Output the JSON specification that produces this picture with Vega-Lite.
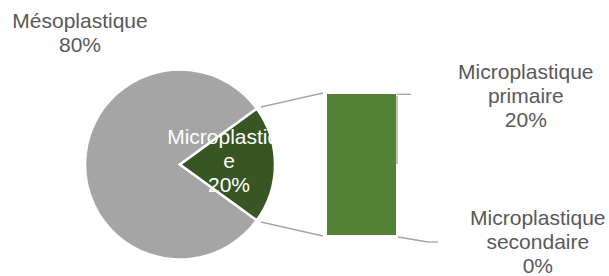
{
  "$schema": "https://vega.github.io/schema/vega-lite/v6.json",
  "width": 360,
  "height": 141,
  "autosize": {"type": "none"},
  "padding": {"left": 0, "top": 94, "right": 249, "bottom": 41},
  "background": "#ffffff",
  "config": {
    "view": {"stroke": null},
    "text": {"font": "Liberation Sans", "fontSize": 21, "lineHeight": 24}
  },
  "datasets": {
    "secteurs": [
      {"categorie": "Mésoplastique", "part": 80, "etiquette": ["Mésoplastique", "80%"]},
      {"categorie": "Microplastique", "part": 20, "etiquette": ["Microplastiqu", "e", "20%"]}
    ],
    "barre": [
      {"panneau": "Barre", "categorie": "Microplastique primaire", "part": 20, "etiquette": ["Microplastique", "primaire", "20%"]},
      {"panneau": "Barre", "categorie": "Microplastique secondaire", "part": 0, "etiquette": ["Microplastique", "secondaire", "0%"]}
    ]
  },
  "layer": [
    {
      "data": {"name": "secteurs"},
      "mark": {"type": "arc", "outerRadius": 95, "stroke": "#ffffff", "strokeWidth": 2.5},
      "encoding": {
        "theta": {"field": "part", "type": "quantitative", "stack": true, "scale": {"range": [0.9425, 7.2257]}},
        "order": {"field": "categorie", "sort": "ascending"},
        "color": {"field": "categorie", "type": "nominal", "scale": {"domain": ["Mésoplastique", "Microplastique"], "range": ["#A5A5A5", "#375623"]}, "legend": null}
      }
    },
    {
      "data": {"name": "secteurs"},
      "transform": [{"filter": "datum.categorie === 'Mésoplastique'"}],
      "mark": {"type": "text", "dx": -100, "dy": -136.2, "baseline": "alphabetic", "align": "center", "color": "#595959"},
      "encoding": {"text": {"field": "etiquette"}}
    },
    {
      "data": {"name": "secteurs"},
      "transform": [{"filter": "datum.categorie === 'Microplastique'"}],
      "mark": {"type": "text", "dx": 49, "dy": -20.5, "baseline": "alphabetic", "align": "center", "color": "#ffffff"},
      "encoding": {"text": {"field": "etiquette"}}
    },
    {
      "data": {"name": "barre"},
      "transform": [{"stack": "part", "groupby": ["panneau"], "sort": [{"field": "categorie", "order": "descending"}], "as": ["bas", "haut"]}],
      "encoding": {
        "x": {"field": "panneau", "type": "nominal", "scale": {"range": [327, 396], "paddingInner": 0, "paddingOuter": 0}, "axis": null},
        "y": {"field": "haut", "type": "quantitative", "scale": {"domain": [0, 20]}, "axis": null}
      },
      "layer": [
        {
          "mark": {"type": "bar", "color": "#548235"},
          "encoding": {
            "y": {"field": "bas", "type": "quantitative"},
            "y2": {"field": "haut"}
          }
        },
        {
          "transform": [{"filter": "datum.categorie === 'Microplastique primaire'"}],
          "mark": {"type": "rule", "color": "#A5A5A5", "strokeWidth": 1.3, "xOffset": 1, "yOffset": 2, "y2Offset": 70},
          "encoding": {
            "x": {"field": "panneau", "type": "nominal", "bandPosition": 1},
            "y2": {"field": "haut"}
          }
        },
        {
          "transform": [{"filter": "datum.categorie === 'Microplastique primaire'"}],
          "mark": {"type": "rule", "color": "#A5A5A5", "strokeWidth": 1.3, "xOffset": 0.5, "x2Offset": 15, "yOffset": 0.3},
          "encoding": {
            "x": {"field": "panneau", "type": "nominal", "bandPosition": 1},
            "x2": {"field": "panneau", "bandPosition": 1}
          }
        },
        {
          "transform": [{"filter": "datum.categorie === 'Microplastique secondaire'"}],
          "mark": {"type": "rule", "color": "#A5A5A5", "strokeWidth": 1.3, "xOffset": 2, "yOffset": 2, "x2Offset": 32, "y2Offset": 7},
          "encoding": {
            "x": {"field": "panneau", "type": "nominal", "bandPosition": 1},
            "x2": {"field": "panneau", "bandPosition": 1},
            "y2": {"field": "haut"}
          }
        },
        {
          "transform": [{"filter": "datum.categorie === 'Microplastique secondaire'"}],
          "mark": {"type": "rule", "color": "#A5A5A5", "strokeWidth": 1.3, "xOffset": 32, "yOffset": 7, "x2Offset": 42},
          "encoding": {
            "x": {"field": "panneau", "type": "nominal", "bandPosition": 1},
            "x2": {"field": "panneau", "bandPosition": 1}
          }
        },
        {
          "transform": [{"filter": "datum.categorie === 'Microplastique primaire'"}],
          "mark": {"type": "rule", "color": "#A5A5A5", "strokeWidth": 1.3, "xOffset": -66, "yOffset": 13, "x2Offset": -4, "y2Offset": -1},
          "encoding": {
            "x": {"field": "panneau", "type": "nominal", "bandPosition": 0},
            "x2": {"field": "panneau", "bandPosition": 0},
            "y2": {"field": "haut"}
          }
        },
        {
          "transform": [{"filter": "datum.categorie === 'Microplastique secondaire'"}],
          "mark": {"type": "rule", "color": "#A5A5A5", "strokeWidth": 1.3, "xOffset": -66, "yOffset": -13, "x2Offset": -4, "y2Offset": 1},
          "encoding": {
            "x": {"field": "panneau", "type": "nominal", "bandPosition": 0},
            "x2": {"field": "panneau", "bandPosition": 0},
            "y2": {"field": "haut"}
          }
        },
        {
          "transform": [{"filter": "datum.categorie === 'Microplastique primaire'"}],
          "mark": {"type": "text", "dx": 164.3, "dy": -14.7, "baseline": "alphabetic", "align": "center", "color": "#595959"},
          "encoding": {
            "x": {"field": "panneau", "type": "nominal", "bandPosition": 0.5},
            "text": {"field": "etiquette"}
          }
        },
        {
          "transform": [{"filter": "datum.categorie === 'Microplastique secondaire'"}],
          "mark": {"type": "text", "dx": 176.3, "dy": -10.5, "baseline": "alphabetic", "align": "center", "color": "#595959"},
          "encoding": {
            "x": {"field": "panneau", "type": "nominal", "bandPosition": 0.5},
            "text": {"field": "etiquette"}
          }
        }
      ]
    }
  ]
}
